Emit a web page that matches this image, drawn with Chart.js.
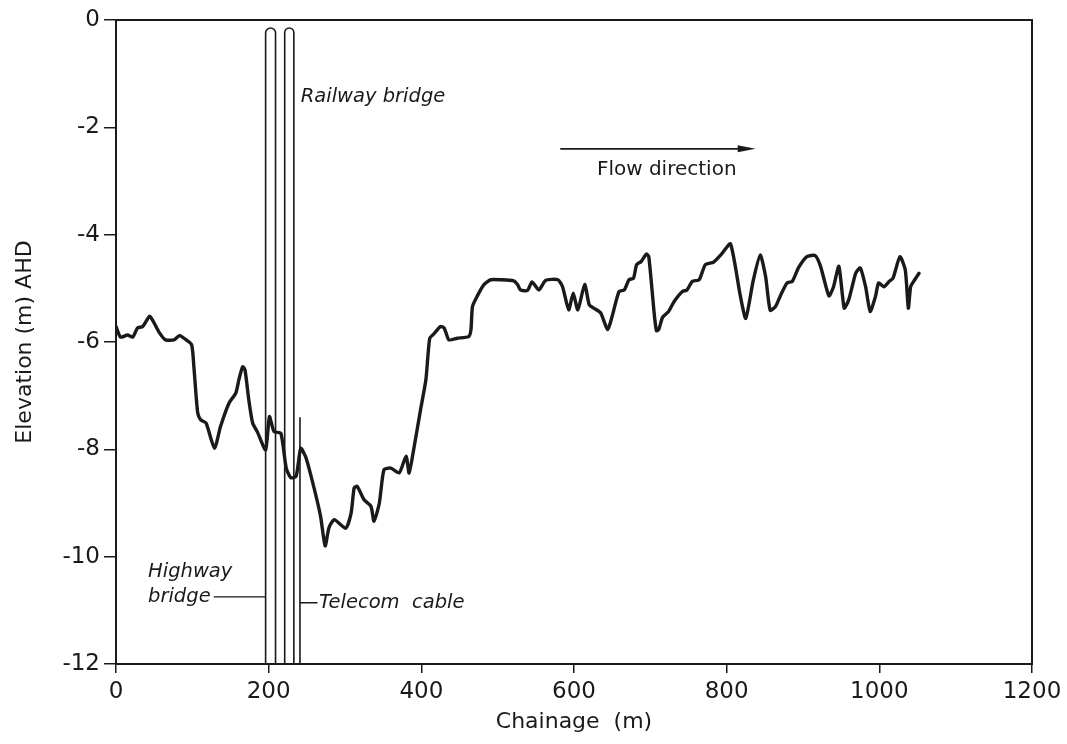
<!DOCTYPE html>
<html>
<head>
<meta charset="utf-8">
<script src="https://cdn.jsdelivr.net/npm/chart.js@4.4.0/dist/chart.umd.min.js"></script>
<style>
html, body { margin: 0; padding: 0; background: #fff; }
#wrap { width: 1067px; height: 744px; }
</style>
</head>
<body>
<div id="wrap"><canvas id="myChart" width="1067" height="744"></canvas></div>
<script>
// long profile
const chainage = [0, 6, 15, 22, 28, 35, 44, 49, 57, 65, 76, 83, 89, 99, 102, 107, 111, 118, 129, 137, 148, 157, 161, 166, 169, 174, 179, 185, 196, 201, 207, 216, 223, 229, 236, 242, 249, 260, 268, 274, 279, 286, 301, 308, 312, 316, 325, 334, 338, 345, 351, 360, 371, 380, 384, 390, 399, 406, 411, 417, 425, 430, 436, 447, 462, 465, 467, 473, 482, 491, 504, 521, 526, 530, 539, 545, 554, 563, 579, 585, 593, 599, 605, 614, 620, 626, 635, 644, 650, 659, 666, 672, 678, 682, 688, 695, 698, 705, 708, 711, 716, 724, 731, 742, 748, 755, 764, 772, 783, 794, 805, 818, 825, 835, 844, 851, 857, 864, 870, 879, 886, 894, 905, 916, 923, 934, 940, 947, 954, 960, 969, 975, 982, 988, 995, 999, 1006, 1013, 1018, 1027, 1034, 1038, 1041, 1045, 1052];
const elevation = [-5.71, -5.91, -5.87, -5.91, -5.74, -5.71, -5.52, -5.62, -5.83, -5.96, -5.96, -5.88, -5.93, -6.05, -6.46, -7.32, -7.45, -7.51, -7.98, -7.57, -7.14, -6.95, -6.70, -6.46, -6.52, -7.08, -7.51, -7.67, -8.01, -7.39, -7.67, -7.70, -8.35, -8.53, -8.50, -7.98, -8.16, -8.75, -9.25, -9.80, -9.46, -9.31, -9.47, -9.19, -8.72, -8.69, -8.94, -9.06, -9.34, -9.00, -8.38, -8.35, -8.44, -8.13, -8.44, -8.00, -7.26, -6.70, -5.93, -5.84, -5.71, -5.74, -5.96, -5.93, -5.90, -5.77, -5.34, -5.15, -4.93, -4.84, -4.84, -4.86, -4.93, -5.03, -5.04, -4.88, -5.03, -4.85, -4.84, -4.97, -5.40, -5.09, -5.40, -4.93, -5.31, -5.37, -5.46, -5.77, -5.52, -5.06, -5.03, -4.84, -4.81, -4.56, -4.50, -4.36, -4.41, -5.46, -5.79, -5.77, -5.54, -5.43, -5.25, -5.06, -5.03, -4.87, -4.84, -4.56, -4.51, -4.35, -4.17, -5.15, -5.56, -4.84, -4.38, -4.78, -5.41, -5.34, -5.15, -4.90, -4.87, -4.62, -4.41, -4.39, -4.59, -5.14, -4.97, -4.59, -5.37, -5.21, -4.72, -4.62, -4.97, -5.43, -5.15, -4.90, -4.97, -4.87, -4.81, -4.41, -4.66, -5.37, -4.97, -4.87, -4.72];

const xTicks = [0, 200, 400, 600, 800, 1000, 1200];
const yTicks = [0, -2, -4, -6, -8, -10, -12];

// structures crossing the river (chainage, m)
const highwayPier = [196, 209];
const railwayPier = [221, 233];
const telecomCable = 241;
const pierTop = -0.15;
const cableTop = -7.4;

const ink = '#1a1a1a';

const profilePoints = chainage.map((c, i) => ({x: c, y: elevation[i]}));

function txt(ctx, s, x, y, font) {
    ctx.font = font;
    ctx.fillStyle = ink;
    ctx.textAlign = 'left';
    ctx.textBaseline = 'middle';
    ctx.fillText(s, x, y);
}

const sketch = {
    id: 'sketch',
    beforeDatasetsDraw(chart) {
        const ctx = chart.ctx;
        const xs = chart.scales.x, ys = chart.scales.y;
        const bot = ys.getPixelForValue(-12);
        const top = ys.getPixelForValue(pierTop);
        ctx.save();
        ctx.strokeStyle = ink;
        ctx.lineWidth = 1.6;
        [highwayPier, railwayPier].forEach(p => {
            const a = xs.getPixelForValue(p[0]);
            const b = xs.getPixelForValue(p[1]);
            const r = (b - a) / 2;
            ctx.beginPath();
            ctx.moveTo(a, bot);
            ctx.lineTo(a, top + r);
            ctx.arcTo(a, top, a + r, top, r);
            ctx.arcTo(b, top, b, top + r, r);
            ctx.lineTo(b, bot);
            ctx.stroke();
        });
        // telecom cable
        const t = xs.getPixelForValue(telecomCable);
        ctx.beginPath();
        ctx.moveTo(t, bot);
        ctx.lineTo(t, ys.getPixelForValue(cableTop));
        ctx.stroke();
        // leader lines
        ctx.lineWidth = 1.4;
        ctx.beginPath();
        ctx.moveTo(xs.getPixelForValue(128), ys.getPixelForValue(-10.75));
        ctx.lineTo(xs.getPixelForValue(highwayPier[0]), ys.getPixelForValue(-10.75));
        ctx.moveTo(t, ys.getPixelForValue(-10.86));
        ctx.lineTo(xs.getPixelForValue(264), ys.getPixelForValue(-10.86));
        ctx.stroke();
        ctx.restore();
    },
    afterDraw(chart) {
        const ctx = chart.ctx;
        const xs = chart.scales.x, ys = chart.scales.y;
        const a = chart.chartArea;
        ctx.save();
        ctx.strokeStyle = ink;
        ctx.lineWidth = 2;
        ctx.strokeRect(a.left, a.top, a.right - a.left, a.bottom - a.top);

        const it = 'italic 19.5px "DejaVu Sans"';
        txt(ctx, 'Railway bridge', xs.getPixelForValue(242), ys.getPixelForValue(-1.43), it);
        txt(ctx, 'Highway', xs.getPixelForValue(42), ys.getPixelForValue(-10.28), it);
        txt(ctx, 'bridge', xs.getPixelForValue(42), ys.getPixelForValue(-10.75), it);
        txt(ctx, 'Telecom  cable', xs.getPixelForValue(266), ys.getPixelForValue(-10.86), it);
        txt(ctx, 'Flow direction', xs.getPixelForValue(630), ys.getPixelForValue(-2.79), '20px "DejaVu Sans"');

        // flow arrow
        const x0 = xs.getPixelForValue(582), x1 = xs.getPixelForValue(838);
        const y0 = ys.getPixelForValue(-2.40);
        ctx.lineWidth = 1.8;
        ctx.beginPath();
        ctx.moveTo(x0, y0);
        ctx.lineTo(x1 - 10, y0);
        ctx.stroke();
        ctx.fillStyle = ink;
        ctx.beginPath();
        ctx.moveTo(x1, y0);
        ctx.lineTo(x1 - 18, y0 - 3.5);
        ctx.lineTo(x1 - 18, y0 + 3.5);
        ctx.closePath();
        ctx.fill();
        ctx.restore();
    }
};

const ctx = document.getElementById('myChart');
new Chart(ctx, {
    type: 'scatter',
    data: {
        datasets: [{
            label: 'Bed profile',
            data: profilePoints,
            showLine: true,
            borderColor: ink,
            borderWidth: 3.4,
            pointRadius: 0,
            tension: 0.2,
            borderJoinStyle: 'round',
            borderCapStyle: 'round'
        }]
    },
    options: {
        responsive: false,
        devicePixelRatio: 1,
        animation: false,
        layout: { padding: { left: 0, top: 20, right: 35, bottom: 0 } },
        plugins: {
            legend: { display: false },
            tooltip: { enabled: false }
        },
        scales: {
            x: {
                type: 'linear',
                min: 0,
                max: 1200,
                afterFit: s => { s.height = 80; },
                afterBuildTicks: s => { s.ticks = xTicks.map(v => ({value: v})); },
                ticks: {
                    color: ink,
                    padding: 5,
                    maxRotation: 0,
                    font: { family: '"DejaVu Sans"', size: 23 },
                    callback: v => String(v)
                },
                grid: { drawOnChartArea: false, drawTicks: true, tickLength: 9, color: ink, lineWidth: 1.5 },
                border: { display: true, color: ink, width: 2 },
                title: {
                    display: true,
                    text: 'Chainage  (m)',
                    color: ink,
                    font: { family: '"DejaVu Sans"', size: 22 },
                    padding: { top: 0, bottom: 9 }
                }
            },
            y: {
                type: 'linear',
                min: -12,
                max: 0,
                afterFit: s => { s.width = 116; },
                afterBuildTicks: s => { s.ticks = yTicks.map(v => ({value: v})); },
                ticks: {
                    color: ink,
                    padding: 4,
                    font: { family: '"DejaVu Sans"', size: 23 },
                    callback: v => String(v)
                },
                grid: { drawOnChartArea: false, drawTicks: true, tickLength: 12, color: ink, lineWidth: 1.5 },
                border: { display: true, color: ink, width: 2 },
                title: {
                    display: true,
                    text: 'Elevation (m) AHD',
                    color: ink,
                    font: { family: '"DejaVu Sans"', size: 22 },
                    padding: { top: 12, bottom: 0 }
                }
            }
        }
    },
    plugins: [sketch]
});
</script>
</body>
</html>
